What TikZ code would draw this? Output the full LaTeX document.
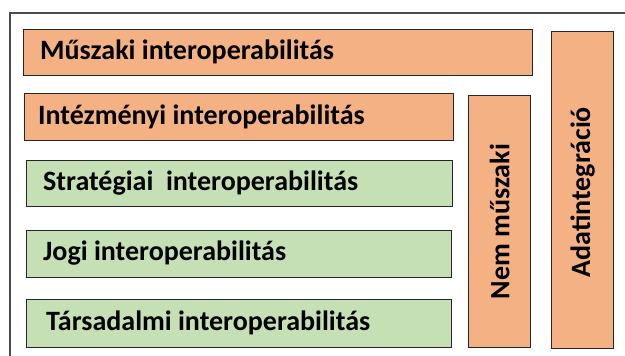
\documentclass[tikz,border=0pt]{standalone}
\usepackage{fontspec}
\setmainfont{Carlito}
\definecolor{orng}{HTML}{F4B183}
\definecolor{grn}{HTML}{C5E0B4}
\begin{document}
\begin{tikzpicture}[x=1pt,y=-1pt,
  bx/.style={draw=black!85,line width=1.4pt},
  lbl/.style={anchor=west,inner sep=0pt,font=\bfseries\fontsize{28}{32}\selectfont},
  vlbl/.style={inner sep=0pt,rotate=90,font=\bfseries\fontsize{28}{32}\selectfont}]
\useasboundingbox (0,0) rectangle (625,356);
\draw[draw=black!70,line width=1.1pt] (10,360) -- (10,13) -- (630,13);
\node[bx,fill=orng,minimum width=509pt,minimum height=46pt,anchor=north west,inner sep=0pt] (b1) at (23,29) {};
\node[bx,fill=orng,minimum width=429pt,minimum height=47pt,anchor=north west,inner sep=0pt] (b2) at (24,93) {};
\node[bx,fill=grn,minimum width=426pt,minimum height=46pt,anchor=north west,inner sep=0pt] (b3) at (26,160) {};
\node[bx,fill=grn,minimum width=425pt,minimum height=47pt,anchor=north west,inner sep=0pt] (b4) at (26,230) {};
\node[bx,fill=grn,minimum width=425pt,minimum height=48pt,anchor=north west,inner sep=0pt] (b5) at (26,299) {};
\node[bx,fill=orng,minimum width=62pt,minimum height=252pt,anchor=north west,inner sep=0pt] (nm) at (468,95) {};
\node[bx,fill=orng,minimum width=62pt,minimum height=317pt,anchor=north west,inner sep=0pt] (ad) at (551,31) {};
\node[lbl] (t1) at (40,52) {Műszaki interoperabilitás};
\node[lbl] (t2) at (38,116.5) {Intézményi interoperabilitás};
\node[lbl] (t3) at (43,183) {Stratégiai\ \ interoperabilitás};
\node[lbl] (t4) at (43,253.5) {Jogi interoperabilitás};
\node[lbl] (t5) at (46,323) {Társadalmi interoperabilitás};
\node[vlbl] (t6) at (nm.center) {Nem műszaki};
\node[vlbl] (t7) at ([yshift=-2pt]ad.center) {Adatintegráció};
\end{tikzpicture}
\end{document}
